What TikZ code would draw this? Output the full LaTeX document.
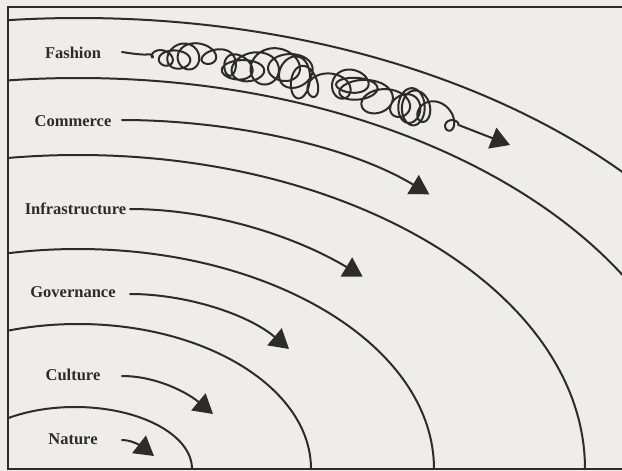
\documentclass[tikz,border=0pt]{standalone}
\usepackage{fontspec}
\setmainfont{Liberation Serif}
\usetikzlibrary{arrows.meta}
\definecolor{paper}{HTML}{EEEDEB}
\definecolor{ink}{HTML}{2C2C28}
\begin{document}
\begin{tikzpicture}[x=1pt,y=-1pt,
  ring/.style={draw=ink, line width=2pt},
  flow/.style={draw=ink, line width=2pt, line cap=round, line join=round,
               -{Triangle[length=19pt,width=22pt]}},
  tag/.style={font=\bfseries\fontsize{16.5}{18}\selectfont, text=ink,
              anchor=base, inner sep=0pt},
  declare function={
    xb(\s)=150+308*\s;
    yb(\s)=473-421*sqrt(1-((xb(\s)-78)/675)*((xb(\s)-78)/675));
    amp(\s)=(1-exp(-14*\s))*(1-exp(-25*(1-\s)));
    ph(\s)=7920*\s+80*sin(900*\s)+40*sin(2100*\s);
    fx(\s)=xb(\s)+amp(\s)*((16+5*sin(1116*\s+20)+2*sin(2600*\s))*cos(ph(\s))+7*sin(1908*\s));
    fy(\s)=yb(\s)+amp(\s)*((14+3*sin(828*\s+70)+3*sin(3000*\s+40))*sin(ph(\s))+5*sin(1476*\s+10));
  }]
\useasboundingbox (0,0) rectangle (622,471);
\clip (0,0) rectangle (622,471);
\fill[paper] (0,0) rectangle (622,471);

% concentric quarter ellipses
\begin{scope}
  \clip (8,7) rectangle (622,469);
  \draw[ring] (75,469) ellipse [x radius=117pt, y radius=62pt];
  \draw[ring] (78,469) ellipse [x radius=233pt, y radius=145pt];
  \draw[ring] (78,469) ellipse [x radius=356pt, y radius=220pt];
  \draw[ring] (78,469) ellipse [x radius=507pt, y radius=314pt];
  \draw[ring] (78,469) ellipse [x radius=627pt, y radius=391pt];
  \draw[ring] (79,469) ellipse [x radius=722pt, y radius=451pt];
\end{scope}

% frame
\draw[ink, line width=2.4pt] (8,7) rectangle (650,469);

% labels
\node[tag] (fashion)  at (73,58.3) {Fashion};
\node[tag] (commerce) at (73,126)  {Commerce};
\node[tag] (infra)    at (75.5,214) {Infrastructure};
\node[tag] (govern)   at (73,297.3) {Governance};
\node[tag] (culture)  at (73,380)  {Culture};
\node[tag] (nature)   at (73,444)  {Nature};

% arrow ends
\coordinate (fashion-s)  at (122,52);
\coordinate (fashion-t)  at (510,145);
\coordinate (commerce-s) at (122,120);
\coordinate (commerce-t) at (429.3,194.3);
\coordinate (infra-s)    at (130,209);
\coordinate (infra-t)    at (362.7,276.7);
\coordinate (govern-s)   at (130,294);
\coordinate (govern-t)   at (289,349);
\coordinate (culture-s)  at (122,376);
\coordinate (culture-t)  at (213,414);
\coordinate (nature-s)   at (122,440);
\coordinate (nature-t)   at (154,456);

% arrows
\draw[flow] (nature-s) .. controls (134,440) and (144.5,448.6) .. (nature-t);
\draw[flow] (culture-s) .. controls (155,376) and (186,391.5) .. (culture-t);
\draw[flow] (govern-s) .. controls (185,294) and (247,313.6) .. (govern-t);
\draw[flow] (infra-s) .. controls (210,209) and (294,235.5) .. (infra-t);
\draw[flow] (commerce-s) .. controls (222,120) and (343.6,142.8) .. (commerce-t);
\draw[flow] (fashion-s) .. controls (135,54) and (142,55) .. (150,54.4)
  -- plot[domain=0:1, samples=1100, variable=\s] ({fx(\s)},{fy(\s)})
  -- (fashion-t);
\end{tikzpicture}
\end{document}
